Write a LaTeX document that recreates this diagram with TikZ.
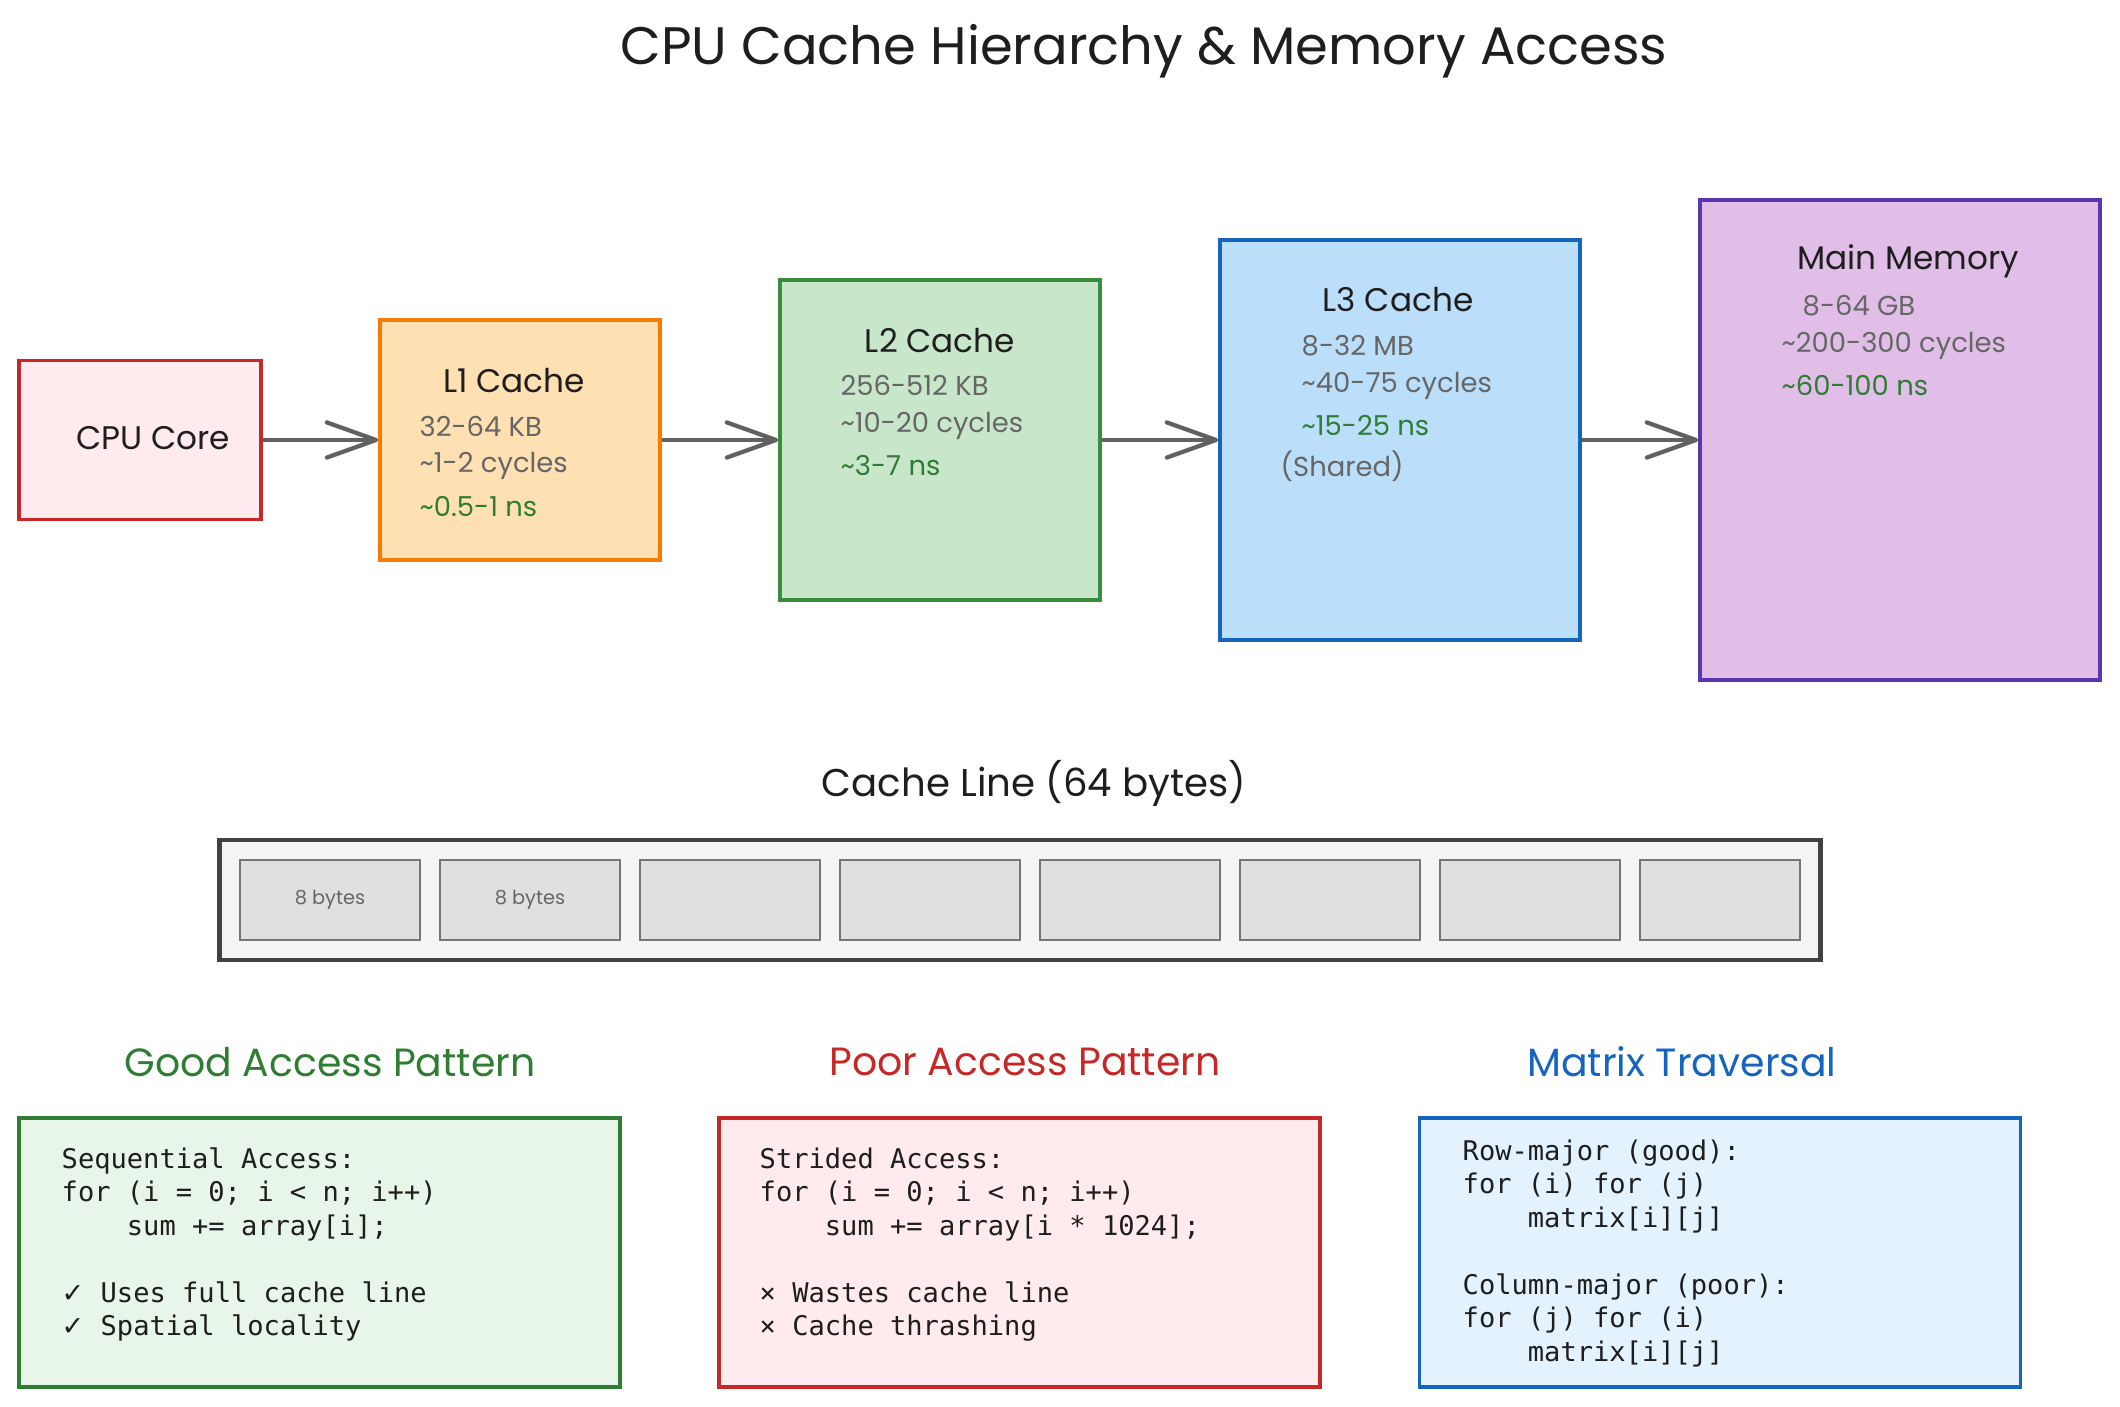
\documentclass[tikz,border=0pt]{standalone}
\usepackage{fontspec}
\usepackage{xcolor}
\usepackage{tikz}
\usetikzlibrary{arrows.meta}
\newfontfamily\handfont{Poppins}
\newfontfamily\codefont{DejaVu Sans Mono}
\newfontfamily\symfont{DejaVu Sans}
\newcommand{\codeind}{\hspace*{2.408em}}
\definecolor{ink}{HTML}{1E1E1E}
\definecolor{muted}{HTML}{666666}
\definecolor{fast}{HTML}{2E7D32}
\definecolor{arrowgray}{HTML}{616161}
\definecolor{cpuline}{HTML}{C62828}
\definecolor{cpufill}{HTML}{FFEBEE}
\definecolor{l1line}{HTML}{F57C00}
\definecolor{l1fill}{HTML}{FFE0B2}
\definecolor{l2line}{HTML}{388E3C}
\definecolor{l2fill}{HTML}{C8E6C9}
\definecolor{l3line}{HTML}{1565C0}
\definecolor{l3fill}{HTML}{BBDEFB}
\definecolor{memline}{HTML}{5E35B1}
\definecolor{memfill}{HTML}{E1BEE7}
\definecolor{lineouter}{HTML}{424242}
\definecolor{linefill}{HTML}{F5F5F5}
\definecolor{cellline}{HTML}{757575}
\definecolor{cellfill}{HTML}{E0E0E0}
\definecolor{goodfill}{HTML}{E8F5E9}
\definecolor{badfill}{HTML}{FFEBEE}
\definecolor{matfill}{HTML}{E3F2FD}

\begin{document}
\begin{tikzpicture}[x=0.01cm,y=-0.01cm,
  level/.style={draw,line width=1pt,inner sep=0pt},
  arr/.style={draw=arrowgray,line width=1.2pt,-{Straight Barb[length=14pt,width=10pt,round]}},
  hd/.style={font=\handfont\fontsize{9.3}{11}\selectfont,text=ink},
  info/.style={font=\handfont\fontsize{7.8}{9}\selectfont,text=muted,anchor=west,inner sep=0pt},
  ns/.style={info,text=fast},
  sect/.style={font=\handfont\fontsize{11.2}{13}\selectfont},
  cell/.style={draw=cellline,fill=cellfill,line width=0.6pt,minimum height=0.8cm,inner sep=0pt,
    font=\handfont\fontsize{5.5}{6}\selectfont,text=muted},
  panel/.style={draw,line width=1pt,minimum width=6.01cm,minimum height=2.69cm},
  code/.style={font=\codefont\fontsize{7.7}{9.53}\selectfont,text=ink,align=left,anchor=north west,inner sep=0pt}]
\useasboundingbox (0,0) rectangle (2120,1407);

\node[font=\handfont\fontsize{15}{18}\selectfont,text=ink] (title) at (1144,51) {CPU Cache Hierarchy \& Memory Access};

% hierarchy
\node[level,draw=cpuline,fill=cpufill,minimum width=2.42cm,minimum height=1.59cm] (cpu) at (140,440) {};
\node[level,draw=l1line,fill=l1fill,minimum width=2.8cm,minimum height=2.4cm] (l1) at (520,440) {};
\node[level,draw=l2line,fill=l2fill,minimum width=3.2cm,minimum height=3.2cm] (l2) at (940,440) {};
\node[level,draw=l3line,fill=l3fill,minimum width=3.6cm,minimum height=4cm] (l3) at (1400,440) {};
\node[level,draw=memline,fill=memfill,minimum width=4cm,minimum height=4.8cm] (mem) at (1900,440) {};

\draw[arr] (cpu) -- (l1);
\draw[arr] (l1) -- (l2);
\draw[arr] (l2) -- (l3);
\draw[arr] (l3) -- (mem);

\node[hd] (cpulbl) at (153,438) {CPU Core};

\node[hd] (l1lbl) at (514,381) {L1 Cache};
\node[info] (l1size) at (419,426) {32-64 KB};
\node[info] (l1cyc) at (419,466) {\textasciitilde1-2 cycles};
\node[ns] (l1ns) at (419,507) {\textasciitilde0.5-1 ns};

\node[hd] (l2lbl) at (940,341) {L2 Cache};
\node[info] (l2size) at (840,385) {256-512 KB};
\node[info] (l2cyc) at (840,426) {\textasciitilde10-20 cycles};
\node[ns] (l2ns) at (840,466) {\textasciitilde3-7 ns};

\node[hd] (l3lbl) at (1398,300) {L3 Cache};
\node[info] (l3size) at (1301,346) {8-32 MB};
\node[info] (l3cyc) at (1301,386) {\textasciitilde40-75 cycles};
\node[ns] (l3ns) at (1301,426) {\textasciitilde15-25 ns};
\node[info] (l3shared) at (1280,466) {(Shared)};

\node[hd] (memlbl) at (1908,261) {Main Memory};
\node[info] (memsize) at (1802,306) {8-64 GB};
\node[info] (memcyc) at (1781,346) {\textasciitilde200-300 cycles};
\node[ns] (memns) at (1781,386) {\textasciitilde60-100 ns};

% cache line
\node[font=\handfont\fontsize{11}{13}\selectfont,text=ink] (linelbl) at (1034,783) {Cache Line (64 bytes)};
\node[draw=lineouter,fill=linefill,line width=1.3pt,minimum width=16cm,minimum height=1.2cm] (cline) at (1020,900) {};
\foreach \i/\t in {0/8 bytes,1/8 bytes,2/,3/,4/,5/,6/}
  \node[cell,minimum width=1.8cm] (cell\i) at ({330+200*\i},900) {\t};
\node[cell,minimum width=1.6cm] (cell7) at (1720,900) {};

% access patterns
\node[sect,text=fast] (goodlbl) at (330,1062) {Good Access Pattern};
\node[sect,text=cpuline] (badlbl) at (1025,1062) {Poor Access Pattern};
\node[sect,text=l3line] (matlbl) at (1682,1062) {Matrix Traversal};

\node[panel,draw=fast,fill=goodfill] (good) at (319.5,1252.5) {};
\node[panel,draw=cpuline,fill=badfill] (bad) at (1019.5,1252.5) {};
\node[panel,draw=l3line,fill=matfill] (mat) at (1720,1252.5) {};

\node[code] (goodcode) at (61,1147) {Sequential Access:\\
for (i = 0; i < n; i++)\\
\codeind sum += array[i];\\[9.53pt]
{\symfont ✓} Uses full cache line\\
{\symfont ✓} Spatial locality};
\node[code] (badcode) at (759,1147) {Strided Access:\\
for (i = 0; i < n; i++)\\
\codeind sum += array[i * 1024];\\[9.53pt]
× Wastes cache line\\
× Cache thrashing};
\node[code] (matcode) at (1462,1139) {Row-major (good):\\
for (i) for (j)\\
\codeind matrix[i][j]\\[9.53pt]
Column-major (poor):\\
for (j) for (i)\\
\codeind matrix[i][j]};
\end{tikzpicture}
\end{document}
